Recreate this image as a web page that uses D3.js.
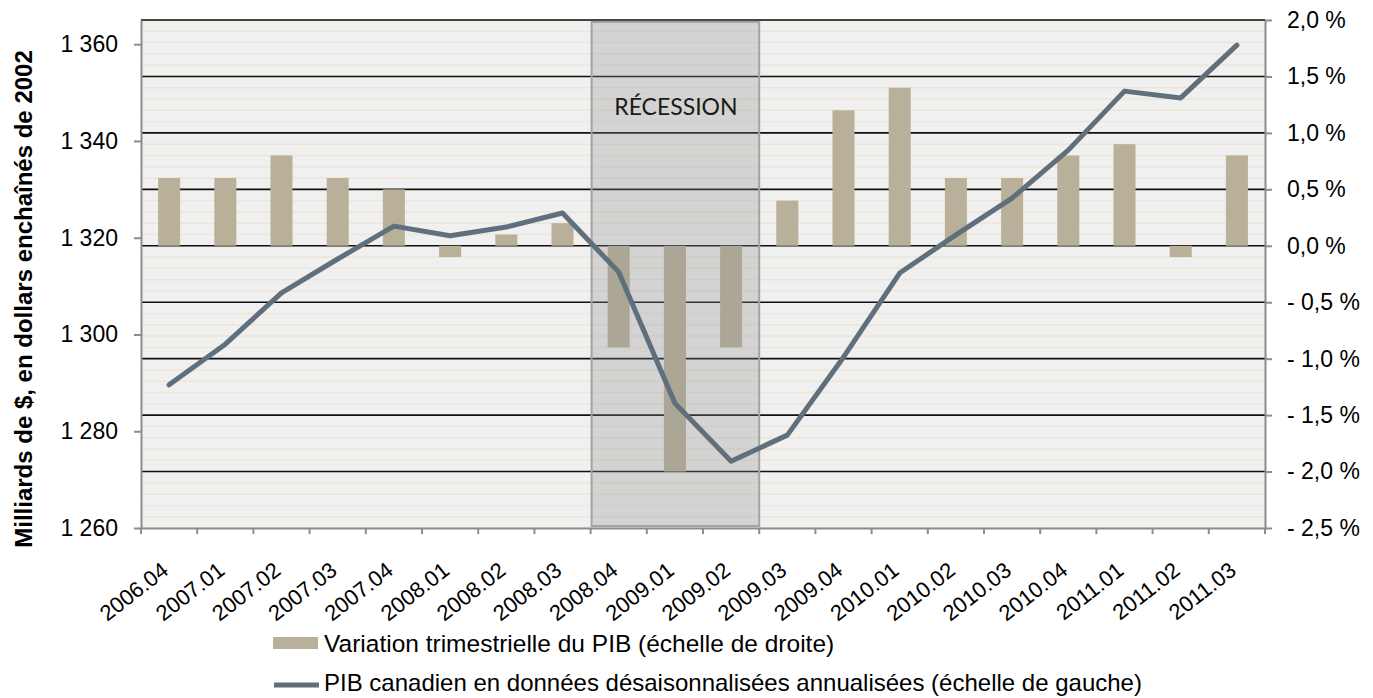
<!DOCTYPE html>
<html>
	<head>
		<meta http-equiv="Content-Type" content="text/html;charset=utf-8"/>
		<title>PIB canadien</title>
		<script type="text/javascript" src="https://cdnjs.cloudflare.com/ajax/libs/d3/7.8.5/d3.min.js"></script>
		<style type="text/css">
			body { margin: 0; background: #fff; }
			text { font-family: "Liberation Sans", Arial, sans-serif; fill: #000; }
			.bar { fill: #b8b098; stroke: none; }
			.gdp { fill: none; stroke: #5f707c; stroke-width: 5; stroke-linejoin: round; stroke-linecap: round; }
			.axis path, .axis line { stroke: #8c8c8c; stroke-width: 2; }
		</style>
	</head>
	<body>
		<script type="text/javascript">

			//Quarters on the x axis
			var quarters = ["2006.04", "2007.01", "2007.02", "2007.03", "2007.04",
				"2008.01", "2008.02", "2008.03", "2008.04", "2009.01", "2009.02",
				"2009.03", "2009.04", "2010.01", "2010.02", "2010.03", "2010.04",
				"2011.01", "2011.02", "2011.03"];

			//Quarterly change of GDP, in % (right scale)
			var change = [0.6, 0.6, 0.8, 0.6, 0.5, -0.1, 0.1, 0.2, -0.9, -2.0, -0.9,
				0.4, 1.2, 1.4, 0.6, 0.6, 0.8, 0.9, -0.1, 0.8];

			//Seasonally adjusted annualized GDP, billions of 2002 chained dollars (left scale)
			var gdp = [1289.6, 1298.0, 1308.6, 1315.6, 1322.4, 1320.4, 1322.2, 1325.1,
				1312.9, 1285.8, 1273.8, 1279.2, 1295.3, 1312.7, 1320.6, 1328.2,
				1338.1, 1350.3, 1348.9, 1359.8];

			//Tick values for both y axes
			var leftTicks = [1260, 1280, 1300, 1320, 1340, 1360];
			var rightTicks = [-2.5, -2.0, -1.5, -1.0, -0.5, 0.0, 0.5, 1.0, 1.5, 2.0];

			//Recession period (first and last quarter)
			var recession = ["2008.04", "2009.02"];

			//plot area edges (note: "top" is reserved by window, so p* names)
			var w = 1373,
				h = 698,
				pLeft = 141,
				pRight = 1265,
				pTop = 20,
				pBottom = 528;

			var fr = d3.formatLocale({decimal: ",", thousands: " ", grouping: [3], currency: ["", " $"]});
			var fmtLeft = fr.format(",d"),
				fmtPct = fr.format(".1f");

			var x = d3.scaleBand().domain(quarters).range([pLeft, pRight]).padding(0);
			var yL = d3.scaleLinear().domain([1260, 1365]).range([pBottom, pTop]);
			var yR = d3.scaleLinear().domain([-2.5, 2.0]).range([pBottom, pTop]);
			var bw = 22;

			var svg = d3.select("body").append("svg")
						.attr("width", w)
						.attr("height", h);

			//plot background
			svg.append("rect")
				.attr("x", pLeft).attr("y", pTop)
				.attr("width", pRight - pLeft).attr("height", pBottom - pTop)
				.attr("fill", "#f0f0f0");

			//light minor gridlines every 0,1 %
			svg.append("g").selectAll("line")
				.data(yR.ticks(45))
				.enter().append("line")
				.attr("x1", pLeft).attr("x2", pRight)
				.attr("y1", function(d) { return yR(d); })
				.attr("y2", function(d) { return yR(d); })
				.attr("stroke", "#ede6d4")
				.attr("stroke-width", 1.5);

			//major gridlines on the right axis ticks
			svg.append("g").selectAll("line")
				.data(rightTicks.slice(1))
				.enter().append("line")
				.attr("x1", pLeft).attr("x2", pRight)
				.attr("y1", function(d) { return yR(d); })
				.attr("y2", function(d) { return yR(d); })
				.attr("stroke", "#111")
				.attr("stroke-width", 1.6);

			//bars of quarterly change
			svg.selectAll("rect.bar")
				.data(change)
				.enter()
				.append("rect")
				.attr("class", "bar")
				.attr("x", function(d, i) { return x(quarters[i]) + (x.bandwidth() - bw) / 2; })
				.attr("width", bw)
				.attr("y", function(d) { return yR(Math.max(0, d)); })
				.attr("height", function(d) { return Math.abs(yR(d) - yR(0)); });

			//recession shading
			var rx0 = x(recession[0]),
				rx1 = x(recession[1]) + x.bandwidth();
			svg.append("rect")
				.attr("x", rx0 + 1).attr("y", pTop + 2)
				.attr("width", rx1 - rx0 - 1).attr("height", pBottom - pTop - 4)
				.attr("fill", "#8e8e8e")
				.attr("fill-opacity", 0.29)
				.attr("stroke", "#a3a3a3")
				.attr("stroke-width", 2);
			svg.append("text")
				.attr("x", (rx0 + rx1) / 2 + 1)
				.attr("y", 115)
				.attr("text-anchor", "middle")
				.style("font-family", "Lato, 'Open Sans', sans-serif")
				.style("font-size", "23px")
				.style("fill", "#1a1a1a")
				.text("RÉCESSION");

			//GDP line
			var line = d3.line()
				.x(function(d, i) { return x(quarters[i]) + x.bandwidth() / 2; })
				.y(function(d) { return yL(d); });
			svg.append("path")
				.datum(gdp)
				.attr("class", "gdp")
				.attr("d", line);

			//axes
			var axL = svg.append("g")
				.attr("class", "axis")
				.attr("transform", "translate(" + pLeft + ",0)")
				.call(d3.axisLeft(yL).tickValues(leftTicks).tickSize(7).tickSizeOuter(0).tickPadding(16).tickFormat(fmtLeft));
			var axR = svg.append("g")
				.attr("class", "axis")
				.attr("transform", "translate(" + pRight + ",0)")
				.call(d3.axisRight(yR).tickValues(rightTicks).tickSize(7).tickSizeOuter(0).tickPadding(15)
					.tickFormat(function(d) { return (d < 0 ? "- " + fmtPct(-d) : fmtPct(d)) + " %"; }));
			var axB = svg.append("g")
				.attr("class", "axis")
				.attr("transform", "translate(0," + pBottom + ")")
				.call(d3.axisBottom(x).tickSize(0).tickSizeOuter(0).tickFormat(""));

			//ticks at the boundaries between quarters
			axB.selectAll("line.bound")
				.data(d3.range(quarters.length + 1))
				.enter().append("line")
				.attr("class", "bound")
				.attr("x1", function(d) { return pLeft + d * x.step(); })
				.attr("x2", function(d) { return pLeft + d * x.step(); })
				.attr("y1", 0).attr("y2", 6);

			axL.selectAll("text").style("font-size", "23px").attr("fill", "#000");
			axR.selectAll("text").style("font-size", "23px").attr("fill", "#000");

			//rotated quarter labels
			svg.append("g").selectAll("text")
				.data(quarters)
				.enter().append("text")
				.attr("text-anchor", "end")
				.attr("dy", "0.35em")
				.style("font-size", "22px")
				.attr("transform", function(d) {
					return "translate(" + (x(d) + x.bandwidth() / 2 - 4) + ",567) rotate(-38)";
				})
				.text(function(d) { return d; });

			//left axis title
			svg.append("text")
				.attr("transform", "translate(32,299) rotate(-90)")
				.attr("text-anchor", "middle")
				.style("font-size", "24px")
				.style("font-weight", "bold")
				.text("Milliards de $, en dollars enchaînés de 2002");

			//legend
			var lg = svg.append("g");
			lg.append("rect")
				.attr("class", "bar")
				.attr("x", 273).attr("y", 637)
				.attr("width", 45).attr("height", 12);
			lg.append("text")
				.attr("x", 324).attr("y", 643).attr("dy", "0.35em")
				.style("font-size", "24.5px")
				.text("Variation trimestrielle du PIB (échelle de droite)");
			lg.append("line")
				.attr("class", "gdp")
				.attr("x1", 274).attr("x2", 319)
				.attr("y1", 685).attr("y2", 685)
				.style("stroke-linecap", "butt");
			lg.append("text")
				.attr("x", 324).attr("y", 683).attr("dy", "0.35em")
				.style("font-size", "24px")
				.text("PIB canadien en données désaisonnalisées annualisées (échelle de gauche)");

		</script>
	</body>
</html>
